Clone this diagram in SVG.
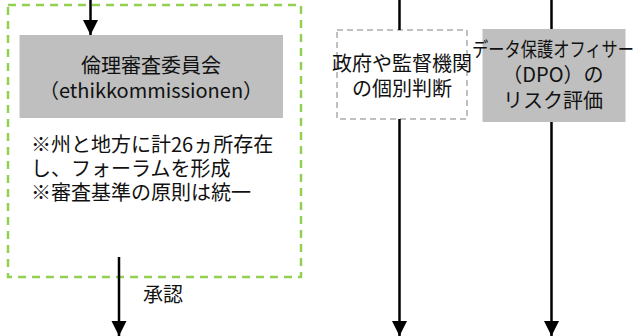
<svg xmlns="http://www.w3.org/2000/svg" width="635" height="336" viewBox="0 0 635 336">
<defs>
<style>
text{font-family:"Noto Sans CJK JP","Noto Sans",sans-serif;font-size:20px;fill:#111}
.c{text-anchor:middle}
.edge{stroke:#000;stroke-width:2.5;fill:none}
</style>
<marker id="ah" markerUnits="userSpaceOnUse" markerWidth="15" markerHeight="16" refX="15" refY="7.5" orient="auto" viewBox="0 0 15 15">
<path d="M0,0 L15,7.5 L0,15 z" fill="#000"/>
</marker>
</defs>
<rect width="635" height="336" fill="#fff"/>
<g id="group-ethik">
<rect x="8" y="5" width="293" height="272" fill="none" stroke="#92d050" stroke-width="2.5" stroke-dasharray="8,6"/>
</g>
<g id="node-ethik">
<rect x="19.5" y="35" width="263.5" height="83" fill="#bfbfbf"/>
<text class="c" x="151" y="73">倫理審査委員会</text>
<text class="c" x="151" y="98">（ethikkommissionen）</text>
</g>
<g id="note-ethik">
<text x="31" y="152">※州と地方に計26ヵ所存在</text>
<text x="31" y="176">し、フォーラムを形成</text>
<text x="31" y="200">※審査基準の原則は統一</text>
</g>
<g id="node-gov">
<rect x="337" y="30" width="130" height="89" fill="#fff" stroke="#c0c0c0" stroke-width="2" stroke-dasharray="6,4"/>
<text class="c" x="402" y="71">政府や監督機関</text>
<text class="c" x="402" y="96">の個別判断</text>
</g>
<g id="node-dpo">
<rect x="482.5" y="29" width="143" height="93" fill="#bfbfbf"/>
<text x="472" y="57" textLength="162" lengthAdjust="spacingAndGlyphs">データ保護オフィサー</text>
<text class="c" x="553" y="82">（DPO）の</text>
<text class="c" x="553" y="108">リスク評価</text>
</g>
<g id="connectors">
<line class="edge" x1="90.5" y1="0" x2="90.5" y2="35" marker-end="url(#ah)"/>
<line class="edge" x1="119" y1="257" x2="119" y2="336" marker-end="url(#ah)"/>
<text x="143" y="302">承認</text>
<line class="edge" x1="399.5" y1="0" x2="399.5" y2="30"/>
<line class="edge" x1="399.5" y1="119" x2="399.5" y2="336" marker-end="url(#ah)"/>
<line class="edge" x1="551.5" y1="0" x2="551.5" y2="29"/>
<line class="edge" x1="551.5" y1="122" x2="551.5" y2="336" marker-end="url(#ah)"/>
</g>
</svg>
